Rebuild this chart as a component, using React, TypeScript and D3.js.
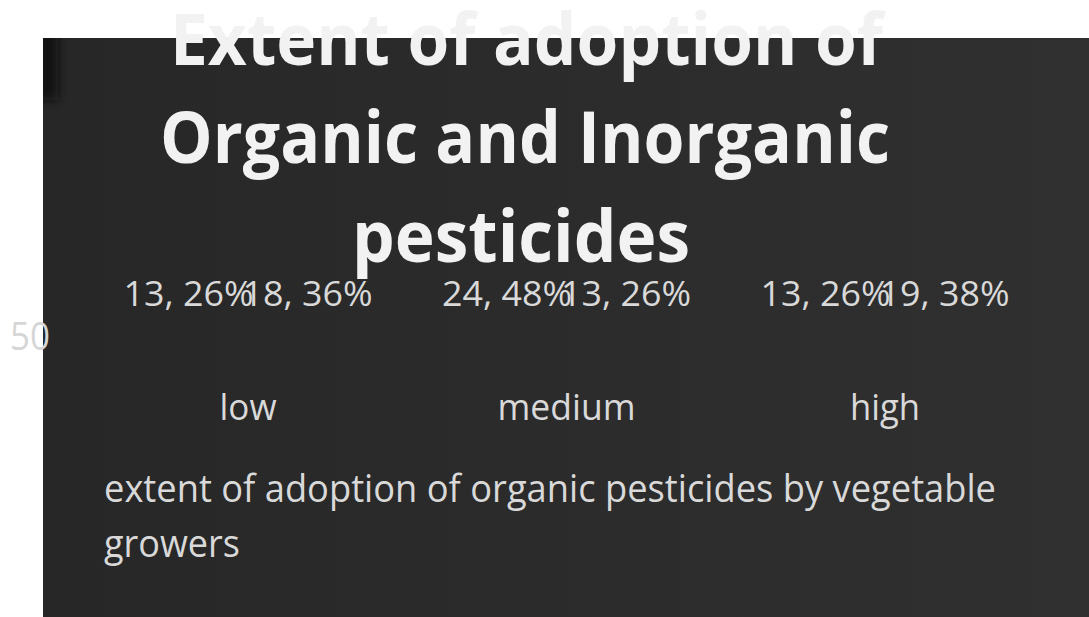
import React from "react";
import * as d3 from "d3";

const categories = ["low", "medium", "high"];
const seriesNames = ["organic", "inorganic"];
const organicValues = [13, 24, 13];
const inorganicValues = [18, 13, 19];
const organicPct = [26, 48, 26];
const inorganicPct = [36, 26, 38];
const yTicks = [50];
const titleLines = ["Extent of adoption of", "Organic and Inorganic", "pesticides"];
const legendLines = ["extent of adoption of organic pesticides by vegetable", "growers"];

const W = 1089;
const H = 617;
const FONT = "'Open Sans', 'Noto Sans', sans-serif";

export default function App() {
  const x = d3.scaleBand<string>().domain(categories).range([88.75, 1044.25]).padding(0);
  const xs = d3.scaleBand<string>().domain(seriesNames).range([-119, 119]).padding(0);
  const y = d3.scaleLinear().domain([0, 50]).range([600, 336]);

  const labels: { cat: string; s: string; text: string }[] = [];
  categories.forEach((c, i) => {
    labels.push({ cat: c, s: "organic", text: `${organicValues[i]}, ${organicPct[i]}%` });
    labels.push({ cat: c, s: "inorganic", text: `${inorganicValues[i]}, ${inorganicPct[i]}%` });
  });

  const titleX = [[170, 713], [160, 730], [352, 338]];
  const titleY = [65, 163, 262];

  return (
    <svg width={W} height={H} style={{ position: "absolute", left: 0, top: 0 }} fontFamily={FONT}>
      <defs>
        <linearGradient id="bg" x1="0" x2="1" y1="0" y2="0">
          <stop offset="0" stopColor="#272727" />
          <stop offset="1" stopColor="#303030" />
        </linearGradient>
        <filter id="blur" x="-50%" y="-50%" width="200%" height="200%">
          <feGaussianBlur stdDeviation="5" />
        </filter>
        <clipPath id="boxclip">
          <rect x={43} y={38} width={W - 43} height={H - 38} />
        </clipPath>
      </defs>
      <rect x={0} y={0} width={W} height={H} fill="#ffffff" />
      <rect x={43} y={38} width={W - 43} height={H - 38} fill="url(#bg)" />
      <g clipPath="url(#boxclip)">
        <rect x={36} y={30} width={22} height={70} fill="#111" opacity={0.8} filter="url(#blur)" />
      </g>

      {/* title */}
      {titleLines.map((t, i) => (
        <text
          key={t}
          x={titleX[i][0]}
          y={titleY[i]}
          fontSize={72}
          fontWeight={700}
          fill="#f2f2f2"
          textLength={titleX[i][1]}
          lengthAdjust="spacingAndGlyphs"
        >
          {t}
        </text>
      ))}

      {/* y tick */}
      {yTicks.map((t) => (
        <text key={t} x={50} y={y(t)} dy="0.36em" textAnchor="end" fontSize={39} fill="#d6d6d6"
          textLength={40} lengthAdjust="spacingAndGlyphs">
          {t}
        </text>
      ))}

      {/* data labels */}
      {labels.map((l, i) => {
        const cx = (x(l.cat) as number) + x.bandwidth() / 2 + (xs(l.s) as number) + xs.bandwidth() / 2;
        return (
          <text key={i} x={cx} y={y(50) - 30} textAnchor="middle" fontSize={35} fill="#d9d9d9"
            textLength={130} lengthAdjust="spacingAndGlyphs">
            {l.text}
          </text>
        );
      })}

      {/* category labels */}
      {categories.map((c) => (
        <text key={c} x={(x(c) as number) + x.bandwidth() / 2} y={420} textAnchor="middle" fontSize={36} fill="#d9d9d9"
          textLength={c === "low" ? 57 : c === "medium" ? 138 : 70} lengthAdjust="spacingAndGlyphs">
          {c}
        </text>
      ))}

      {/* legend */}
      {legendLines.map((t, i) => (
        <text key={t} x={104} y={502 + i * 55} fontSize={39} fill="#d9d9d9"
          textLength={i === 0 ? 892 : 136} lengthAdjust="spacingAndGlyphs">
          {t}
        </text>
      ))}
    </svg>
  );
}
